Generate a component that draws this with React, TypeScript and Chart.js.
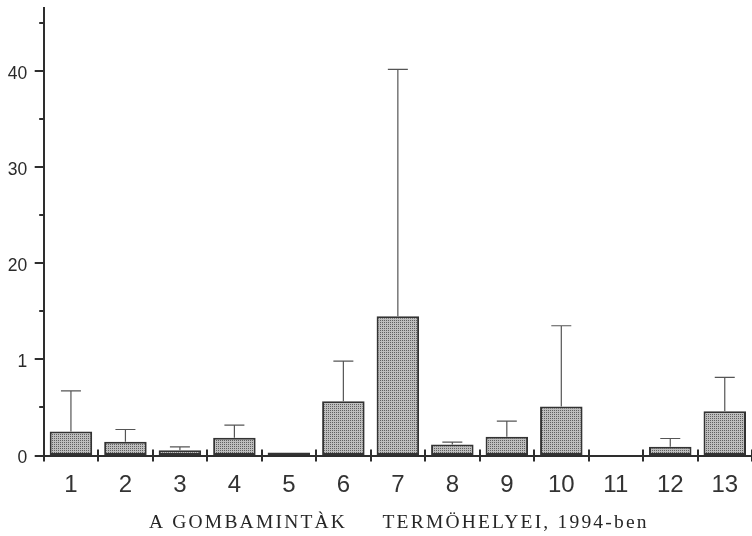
import { useEffect, useRef } from 'react';
import { Chart, registerables } from 'chart.js';

Chart.register(...registerables);

// Sampling sites (1–13) and the mean value measured at each site
const SITES = ['1', '2', '3', '4', '5', '6', '7', '8', '9', '10', '11', '12', '13'];
const MEANS = [2.5, 1.42, 0.55, 1.84, 0.31, 5.66, 14.5, 1.15, 1.94, 5.11, 0, 0.9, 4.62];
// Upper error (standard deviation) drawn above each bar
const ERRORS = [4.24, 1.29, 0.35, 1.32, 0, 4.17, 25.7, 0.24, 1.64, 8.4, 0, 0.87, 3.51];

// Labelled y ticks (as printed) and the minor tick step
const Y_TICK_VALUES = [0, 10, 20, 30, 40];
const Y_TICK_LABELS = ['0', '1', '20', '30', '40'];
const Y_MINOR_STEP = 5;
const Y_MAX = 46.6;

const X_TITLE = 'A GOMBAMINTÀK     TERMÖHELYEI, 1994-ben';

const INK = '#2e2e2e';
const SANS = '"Liberation Sans", Arial, Helvetica, sans-serif';
const SERIF = '"Liberation Serif", "Times New Roman", serif';

// Dotted halftone fill for the bars
function makeHalftone(ctx: CanvasRenderingContext2D): CanvasPattern | string {
  const tile = document.createElement('canvas');
  tile.width = 2;
  tile.height = 2;
  const g = tile.getContext('2d');
  if (!g) return '#a6a6a6';
  g.fillStyle = '#bdbdbd';
  g.fillRect(0, 0, 2, 2);
  g.fillStyle = '#5f5f5f';
  g.fillRect(0, 0, 1, 1);
  return ctx.createPattern(tile, 'repeat') || '#a6a6a6';
}

// Error whiskers, axis tick marks and the axis caption
const decorations = {
  id: 'decorations',
  afterDatasetsDraw(chart: any) {
    const { ctx, scales } = chart;
    const y = scales.y;
    const meta = chart.getDatasetMeta(0);
    ctx.save();
    ctx.strokeStyle = '#555';
    ctx.lineWidth = 1.2;
    meta.data.forEach((bar: any, i: number) => {
      const e = ERRORS[i];
      if (!e) return;
      const top = y.getPixelForValue(MEANS[i] + e);
      ctx.beginPath();
      ctx.moveTo(bar.x, bar.y);
      ctx.lineTo(bar.x, top);
      ctx.moveTo(bar.x - 10, top);
      ctx.lineTo(bar.x + 10, top);
      ctx.stroke();
    });
    ctx.restore();
  },
  afterDraw(chart: any) {
    const { ctx, chartArea, scales } = chart;
    const { x, y } = scales;
    ctx.save();
    ctx.strokeStyle = INK;
    ctx.lineWidth = 2;
    ctx.beginPath();
    // y ticks: long marks at labelled values, short marks between them
    for (let v = 0; v <= Y_MAX; v += Y_MINOR_STEP) {
      const py = Math.round(y.getPixelForValue(v));
      const len = Y_TICK_VALUES.includes(v) ? 9 : 4.5;
      ctx.moveTo(chartArea.left - len, py);
      ctx.lineTo(chartArea.left, py);
    }
    // x ticks at the category boundaries, crossing the axis
    for (let i = 0; i <= SITES.length; i++) {
      const px = Math.round(x.getPixelForValue(i - 0.5));
      ctx.moveTo(px, chartArea.bottom - 6);
      ctx.lineTo(px, chartArea.bottom + 6);
    }
    ctx.stroke();

    // caption under the axis
    ctx.fillStyle = '#262626';
    ctx.font = `19.5px ${SERIF}`;
    (ctx as any).letterSpacing = '2.2px';
    ctx.textAlign = 'center';
    ctx.textBaseline = 'alphabetic';
    ctx.fillText(X_TITLE, (x.left + x.right) / 2 + 1, chart.height - 8);
    (ctx as any).letterSpacing = '0px';
    ctx.restore();
  },
};

export default function App() {
  const canvasRef = useRef<HTMLCanvasElement | null>(null);

  useEffect(() => {
    const canvas = canvasRef.current;
    if (!canvas) return;
    const ctx = canvas.getContext('2d');
    if (!ctx) return;
    const fill = makeHalftone(ctx);

    const chart = new Chart(canvas, {
      type: 'bar',
      data: {
        labels: SITES,
        datasets: [
          {
            data: MEANS,
            backgroundColor: fill as any,
            borderColor: '#333',
            borderWidth: 2,
            borderSkipped: false,
            barPercentage: 0.78,
            categoryPercentage: 1,
          },
        ],
      },
      options: {
        responsive: false,
        animation: false,
        layout: { padding: { top: 8, right: -2, bottom: 0, left: 0 } },
        plugins: {
          legend: { display: false },
          tooltip: { enabled: false },
          title: { display: false },
        },
        scales: {
          x: {
            grid: { display: true, drawOnChartArea: false, drawTicks: false },
            border: { display: true, width: 2, color: INK },
            ticks: {
              font: { family: SANS, size: 24 },
              color: '#333',
              padding: 15,
              maxRotation: 0,
              autoSkip: false,
            },
            afterFit: (s: any) => {
              s.height = 80.5;
              s.paddingLeft = 0;
              s.paddingRight = 0;
            },
          },
          y: {
            min: 0,
            max: Y_MAX,
            grid: { display: true, drawOnChartArea: false, drawTicks: false },
            border: { display: true, width: 2, color: INK },
            afterBuildTicks: (s: any) => {
              const t: { value: number }[] = [];
              for (let v = 0; v <= Y_MAX; v += Y_MINOR_STEP) t.push({ value: v });
              s.ticks = t;
            },
            ticks: {
              font: { family: SANS, size: 17.5 },
              color: '#2a2a2a',
              padding: 16.5,
              labelOffset: 3,
              callback: (v: any) => {
                const k = Y_TICK_VALUES.indexOf(Number(v));
                return k >= 0 ? Y_TICK_LABELS[k] : '';
              },
            },
            afterFit: (s: any) => {
              s.width = 43.7;
              s.paddingTop = 0;
              s.paddingBottom = 0;
            },
          },
        },
      },
      plugins: [decorations],
    });

    return () => chart.destroy();
  }, []);

  return (
    <div style={{ position: 'fixed', left: 0, top: 0, width: 752, height: 536, background: '#fff' }}>
      <canvas ref={canvasRef} width={752} height={536} style={{ display: 'block' }} />
    </div>
  );
}
